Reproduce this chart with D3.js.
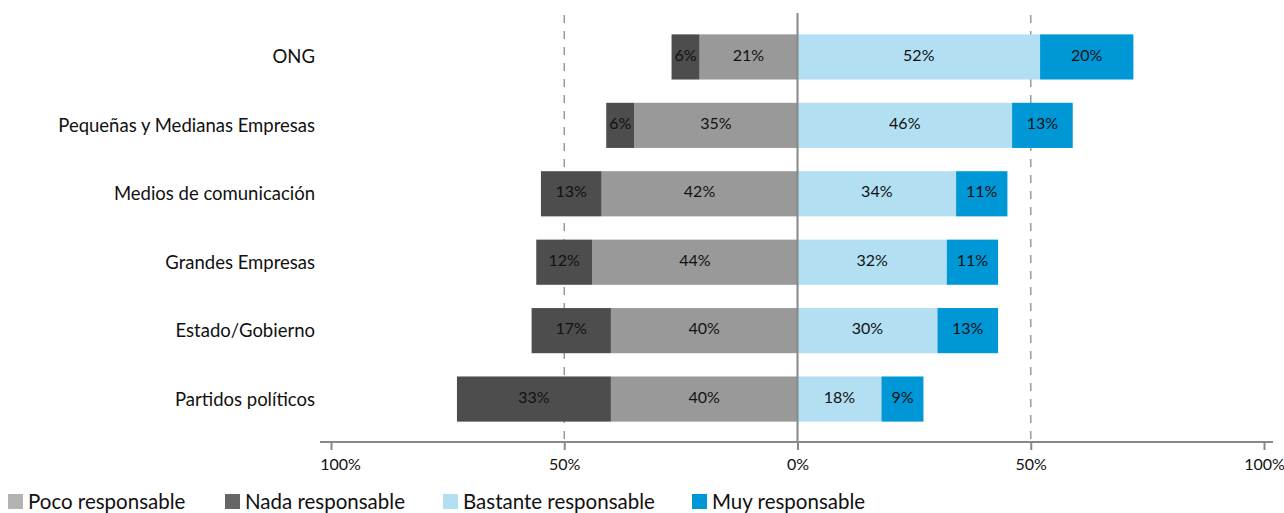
<!DOCTYPE html>
<html><head><meta charset="utf-8">
<script src="https://cdn.jsdelivr.net/npm/d3@7"></script>
<style>
body{margin:0;background:#fff;}
text{font-family:Lato,"Open Sans",sans-serif;fill:#111;}
</style></head>
<body><svg id="c" width="1284" height="513"></svg>
<script>
const categories = ["ONG","Pequeñas y Medianas Empresas","Medios de comunicación","Grandes Empresas","Estado/Gobierno","Partidos políticos"];
const poco = [21,35,42,44,40,40];
const nada = [6,6,13,12,17,33];
const bastante = [52,46,34,32,30,18];
const muy = [20,13,11,11,13,9];
const tickValues = [-100,-50,0,50,100];
const tickLabels = ["100%","50%","0%","50%","100%"];
const seriesNames = ["Poco responsable","Nada responsable","Bastante responsable","Muy responsable"];

const barColors = {poco:"#999999", nada:"#4d4d4d", bastante:"#b3dff2", muy:"#0097d6"};
const legendColors = ["#b3b3b3","#666666","#b3dff2","#0097d6"];

const svg = d3.select("#c");
const x = d3.scaleLinear().domain([-100,100]).range([331,1264]);
const y = d3.scaleBand().domain(categories).range([20,436]).paddingInner(0.34).paddingOuter(0.21);

// gridlines dashed at +/-50
svg.selectAll("line.grid").data([-50,50]).join("line")
  .attr("x1",d=>x(d)).attr("x2",d=>x(d)).attr("y1",15).attr("y2",441)
  .attr("stroke","#999").attr("stroke-width",1.5).attr("stroke-dasharray","8,8");

// segments
const segs = [];
categories.forEach((c,i)=>{
  segs.push({c, x0:-poco[i], x1:0, v:poco[i], col:barColors.poco});
  segs.push({c, x0:-poco[i]-nada[i], x1:-poco[i], v:nada[i], col:barColors.nada});
  segs.push({c, x0:0, x1:bastante[i], v:bastante[i], col:barColors.bastante});
  segs.push({c, x0:bastante[i], x1:bastante[i]+muy[i], v:muy[i], col:barColors.muy});
});
const g = svg.append("g");
g.selectAll("rect").data(segs).join("rect")
  .attr("x",d=>x(d.x0)).attr("width",d=>x(d.x1)-x(d.x0))
  .attr("y",d=>y(d.c)).attr("height",y.bandwidth()).attr("fill",d=>d.col);
g.selectAll("text").data(segs).join("text")
  .attr("x",d=>(x(d.x0)+x(d.x1))/2).attr("y",d=>y(d.c)+y.bandwidth()/2 - 2)
  .attr("dy","0.35em").attr("text-anchor","middle").attr("font-size",16)
  .text(d=>d.v+"%");

// zero line
svg.append("line").attr("x1",x(0)).attr("x2",x(0)).attr("y1",13).attr("y2",442)
  .attr("stroke","#888").attr("stroke-width",2);

// category labels
svg.selectAll("text.cat").data(categories).join("text").attr("class","cat")
  .attr("x",315).attr("y",d=>y(d)+y.bandwidth()/2).attr("dy","0.35em")
  .attr("text-anchor","end").attr("font-size",18.5).text(d=>d);

// x axis
const axis = d3.axisBottom(x).tickValues(tickValues).tickSize(8).tickFormat((d,i)=>tickLabels[i]);
const ax = svg.append("g").attr("transform","translate(0,442)").call(axis);
ax.select(".domain").remove();
ax.append("line").attr("x1",320).attr("x2",1273).attr("stroke","#888").attr("stroke-width",2);
ax.selectAll(".tick line").attr("stroke","#888").attr("stroke-width",2);
ax.selectAll(".tick text").attr("font-size",16).attr("fill","#111")
  .attr("font-family","Lato,'Open Sans',sans-serif").attr("y",17)
  .attr("dx",(d,i)=>i===0?9:0);

// legend
const legX = [8,225,443,692];
const lg = svg.selectAll("g.leg").data(seriesNames).join("g").attr("class","leg")
  .attr("transform",(d,i)=>`translate(${legX[i]},494)`);
lg.append("rect").attr("width",15).attr("height",15).attr("fill",(d,i)=>legendColors[i]);
lg.append("text").attr("x",20).attr("y",8).attr("dy","0.35em").attr("font-size",20.5).text(d=>d);
</script></body></html>
